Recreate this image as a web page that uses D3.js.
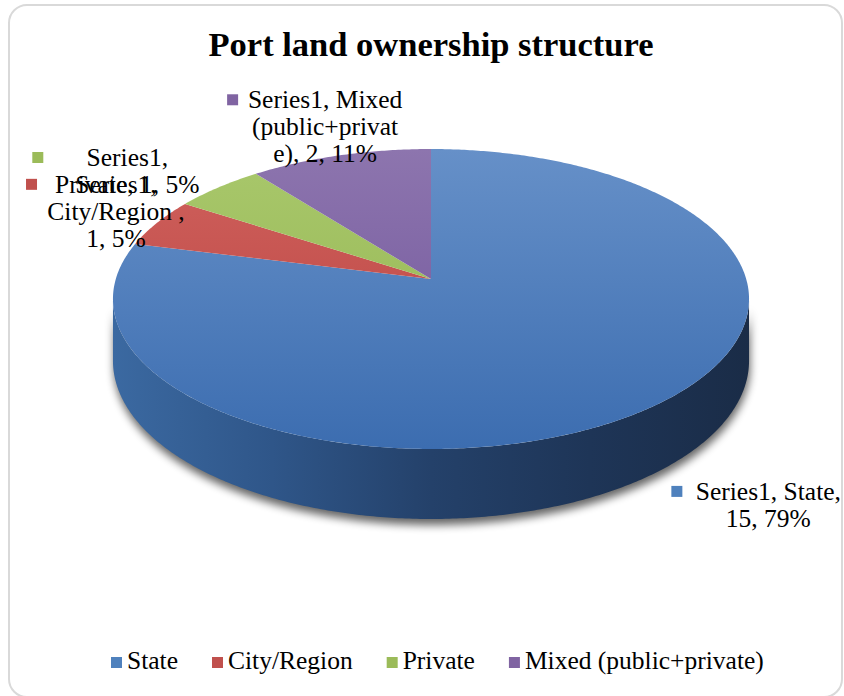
<!DOCTYPE html>
<html>
<head>
<meta charset="utf-8">
<script src="https://cdn.jsdelivr.net/npm/d3@7"></script>
<style>
  html, body { margin: 0; padding: 0; background: #fff; }
  svg { display: block; }
  text { font-family: "Liberation Serif", "Times New Roman", serif; fill: #000; }
</style>
</head>
<body>
<svg id="chart" width="844" height="696"></svg>
<script>
// ---- data ----
const seriesName = "Series1";
const categories = ["State", "City/Region ", "Private", "Mixed (public+private)"];
const values = [15, 1, 1, 2];
const chartTitle = "Port land ownership structure";

// ---- styling ----
const topColors = [["#6690c8", "#3c6db0"], ["#d0625e", "#b8403d"], ["#a9c86c", "#92b34e"], ["#8d75ae", "#6e529a"]];
const keyColors = ["#4f81bd", "#c0504d", "#9bbb59", "#8064a2"];
// wrap width (characters) of each data label, and its offset from the slice's rim midpoint
const labelWrap = [16, 14, 14, 14];
const labelOffset = [[121, 91], [-41, -30], [-91, -21.5], [-15, -47]];
const labelKeyDx = [-97, -90, -95, -98];

const W = 844, H = 696;
const svg = d3.select("#chart");
const defs = svg.append("defs");

// perspective disc: apex position, radii, tilt factor and side depth
const geo = { cx: 431, cy: 279, a: 315.2, b: 147.3, k: -0.1333, D: 60.7 };
function proj(t, dz = 0) {
  const u = Math.sin(t), v = -Math.cos(t), w = 1 + geo.k * v;
  return [geo.cx + geo.a * u / w, geo.cy + (geo.b * v + dz) / w];
}
function arcPoints(t0, t1, dz = 0) {
  const n = Math.max(2, Math.ceil(Math.abs(t1 - t0) / 0.01));
  return d3.range(n + 1).map(i => proj(t0 + (t1 - t0) * i / n, dz));
}
const line = d3.line();

// chart frame
svg.append("rect")
  .attr("x", 9).attr("y", 5).attr("width", 833).attr("height", 692)
  .attr("rx", 18).attr("ry", 18)
  .attr("fill", "#fff").attr("stroke", "#d9d9d9").attr("stroke-width", 2);

// title
svg.append("text")
  .attr("x", 431).attr("y", 56)
  .attr("text-anchor", "middle")
  .style("font-size", "34.5px").style("font-weight", "bold")
  .text(chartTitle);

const pie = d3.pie().sort(null).startAngle(0).endAngle(2 * Math.PI);
const arcs = pie(values);
const total = d3.sum(values);

// gradients
topColors.forEach((c, i) => {
  const g = defs.append("linearGradient").attr("id", "top" + i)
    .attr("gradientUnits", "userSpaceOnUse")
    .attr("x1", 0).attr("y1", 149).attr("x2", 0).attr("y2", 448);
  g.append("stop").attr("offset", 0).attr("stop-color", c[0]);
  g.append("stop").attr("offset", 1).attr("stop-color", c[1]);
});
const sideGrad = defs.append("linearGradient").attr("id", "side")
  .attr("gradientUnits", "userSpaceOnUse")
  .attr("x1", 113).attr("y1", 0).attr("x2", 749).attr("y2", 0);
[[0, "#3b69a1"], [0.25, "#2f5689"], [0.5, "#24416a"], [0.75, "#1e3557"], [1, "#1a2c47"]]
  .forEach(([o, c]) => sideGrad.append("stop").attr("offset", o).attr("stop-color", c));

const blur = defs.append("filter").attr("id", "shadow")
  .attr("x", "-10%").attr("y", "-10%").attr("width", "120%").attr("height", "140%");
blur.append("feGaussianBlur").attr("stdDeviation", 4);

// visible side wall, between the two silhouette angles
const tR = Math.acos(geo.k), tL = 2 * Math.PI - tR;
const sidePts = arcPoints(tR, tL, 0).concat(arcPoints(tL, tR, geo.D));

svg.append("path")
  .attr("d", line(sidePts) + "Z")
  .attr("fill", "#000").attr("opacity", 0.6)
  .attr("transform", "translate(1,6)")
  .attr("filter", "url(#shadow)");

svg.append("path")
  .attr("d", line(sidePts) + "Z")
  .attr("fill", "url(#side)");

// top face slices
svg.append("g").selectAll("path")
  .data(arcs)
  .join("path")
  .attr("d", d => line([[geo.cx, geo.cy]].concat(arcPoints(d.startAngle, d.endAngle))) + "Z")
  .attr("fill", (d, i) => `url(#top${i})`);

// data labels
function wrap(str, limit) {
  const words = str.split(" ");
  const lines = [];
  let cur = "";
  words.forEach(w => {
    const cand = cur ? cur + " " + w : w;
    if (cand.length <= limit) { cur = cand; return; }
    if (cur) lines.push(cur);
    cur = w;
    while (cur.length > limit) { lines.push(cur.slice(0, limit)); cur = cur.slice(limit); }
  });
  if (cur) lines.push(cur);
  return lines;
}

const lineH = 27;
const labels = svg.append("g");
arcs.forEach((d, i) => {
  const pct = Math.round(d.value / total * 100);
  const str = `${seriesName}, ${categories[i]}, ${d.value}, ${pct}%`;
  const lines = wrap(str, labelWrap[i]);
  const mid = (d.startAngle + d.endAngle) / 2;
  const [mx, my] = proj(mid);
  const x = mx + labelOffset[i][0], y = my + labelOffset[i][1];
  labels.append("rect")
    .attr("x", x + labelKeyDx[i]).attr("y", y - 14)
    .attr("width", 11).attr("height", 11)
    .attr("fill", keyColors[i]);
  const t = labels.append("text")
    .attr("text-anchor", "middle")
    .style("font-size", "25.5px");
  lines.forEach((ln, j) => t.append("tspan").attr("x", x).attr("y", y + j * lineH).text(ln));
});

// legend
const legend = svg.append("g").attr("transform", "translate(111,669)");
let lx = 0;
categories.forEach((c, i) => {
  const g = legend.append("g").attr("transform", `translate(${lx},0)`);
  g.append("rect").attr("x", 0).attr("y", -12).attr("width", 11).attr("height", 11).attr("fill", keyColors[i]);
  const t = g.append("text").attr("x", 16).attr("y", 0).style("font-size", "25.5px").text(c.trim());
  lx += 16 + t.node().getComputedTextLength() + 34;
});
</script>
</body>
</html>
